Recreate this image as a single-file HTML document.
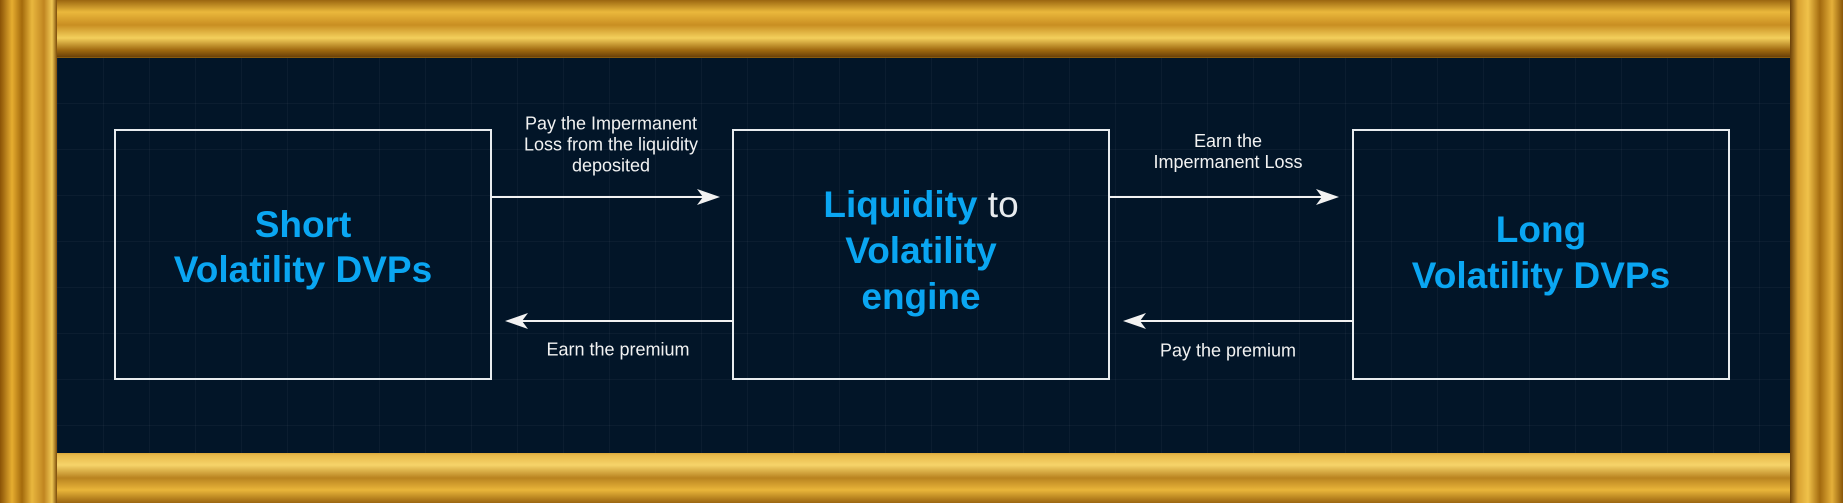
<!DOCTYPE html>
<html><head><style>
html,body{margin:0;padding:0}
body{width:1843px;height:503px;position:relative;overflow:hidden;font-family:"Liberation Sans",sans-serif;
background:linear-gradient(180deg,#b57a10 0%,#f0c040 4%,#a86e08 7%,#e8b535 10%,#8a5a08 12%,#c89024 100%);}
.frame{position:absolute;left:0;top:0;width:1843px;height:503px;
background:
linear-gradient(180deg,transparent 0,transparent 450px,#e7b94a 455px,#f6d46a 465px,#b98320 478px,#e9b53a 490px,#9b6610 503px),
linear-gradient(180deg,#9b6610 0,#eab83c 12px,#c98e22 25px,#f3cf5c 38px,#a06a10 50px,#6a4008 57px,transparent 58px);}
.lside{position:absolute;left:0;top:0;width:57px;height:503px;background:linear-gradient(90deg,#8a5206,#e6ad30 12px,#a46a0c 22px,#e9b73e 32px,#c08521 44px,#f0c855 52px,#7a4a08 57px)}
.rside{position:absolute;right:0;top:0;width:53px;height:503px;background:linear-gradient(90deg,#6a4008,#d9a232 8px,#f0c24a 18px,#a36a0e 30px,#e5b03a 42px,#8a5608 53px)}
.panel{position:absolute;left:57px;top:58px;width:1733px;height:395px;background-color:#021528;
background-image:linear-gradient(90deg,rgba(255,255,255,0.035) 1px,transparent 1px),linear-gradient(0deg,rgba(255,255,255,0.035) 1px,transparent 1px);
background-size:46px 46px;}
.box{position:absolute;border:2px solid #e8ecef;box-sizing:border-box;}
.t{position:absolute;color:#0aa6f2;font-weight:bold;font-size:37px;text-align:center;white-space:nowrap;transform:translate(-50%,-50%)}
.l{position:absolute;color:#f2f2f2;font-size:18px;text-align:center;white-space:nowrap;transform:translate(-50%,-50%);line-height:21px}
</style></head><body>
<div class="frame"></div><div class="lside"></div><div class="rside"></div>
<div class="panel"></div>
<div class="box" style="left:114px;top:129px;width:378px;height:251px"></div>
<div class="box" style="left:732px;top:129px;width:378px;height:251px"></div>
<div class="box" style="left:1352px;top:129px;width:378px;height:251px"></div>
<svg style="position:absolute;left:0;top:0" width="1843" height="503">
<g stroke="#f2f2f2" stroke-width="2" fill="none">
<line x1="491" y1="197" x2="712" y2="197"/>
<line x1="733" y1="321" x2="512" y2="321"/>
<line x1="1109" y1="197" x2="1331" y2="197"/>
<line x1="1353" y1="321" x2="1130" y2="321"/>
</g>
<g fill="#f2f2f2">
<path d="M720,197 L697,189 L703,197 L697,205Z"/>
<path d="M505,321 L528,313 L522,321 L528,329Z"/>
<path d="M1339,197 L1316,189 L1322,197 L1316,205Z"/>
<path d="M1123,321 L1146,313 L1140,321 L1146,329Z"/>
</g></svg>
<div class="t" style="left:303px;top:225px">Short</div>
<div class="t" style="left:303px;top:270px">Volatility DVPs</div>
<div class="t" style="left:921px;top:205px">Liquidity <span style="color:#e8ecef;font-weight:normal">to</span></div>
<div class="t" style="left:921px;top:251px">Volatility</div>
<div class="t" style="left:921px;top:297px">engine</div>
<div class="t" style="left:1541px;top:230px">Long</div>
<div class="t" style="left:1541px;top:276px">Volatility DVPs</div>
<div class="l" style="left:611px;top:145px">Pay the Impermanent<br>Loss from the liquidity<br>deposited</div>
<div class="l" style="left:618px;top:350px">Earn the premium</div>
<div class="l" style="left:1228px;top:152px">Earn the<br>Impermanent Loss</div>
<div class="l" style="left:1228px;top:351px">Pay the premium</div>
</body></html>
